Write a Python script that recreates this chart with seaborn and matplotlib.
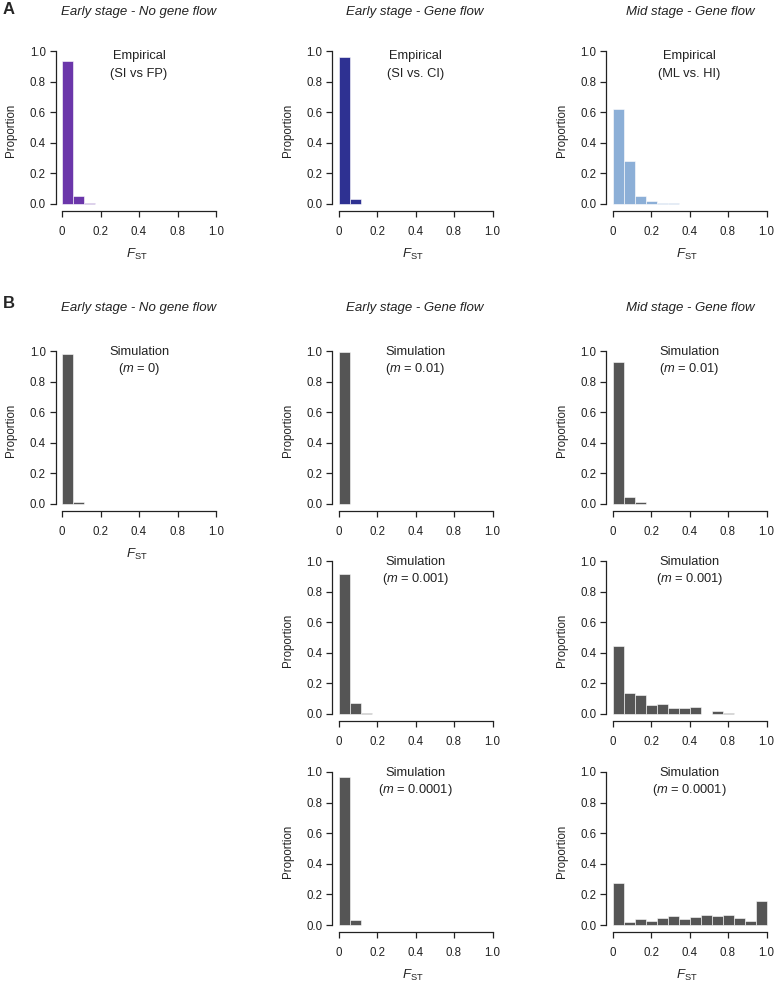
import numpy as np
import pandas as pd
import matplotlib
matplotlib.use("Agg")
import matplotlib.pyplot as plt
import seaborn as sns

sns.set_style("ticks")
plt.rcParams['font.family'] = ['Liberation Sans', 'DejaVu Sans']
plt.rcParams['mathtext.fontset'] = 'custom'
plt.rcParams['mathtext.rm'] = 'Liberation Sans'
plt.rcParams['mathtext.it'] = 'Liberation Sans:italic'

# FST histogram bins (14 equal bins over the axis)
n_bins = 14
bin_edges = np.linspace(0, 1, n_bins + 1)
bin_mids = (bin_edges[:-1] + bin_edges[1:]) / 2

x_tick_pos = [0, 0.25, 0.5, 0.75, 1.0]
x_tick_labels = ['0', '0.2', '0.4', '0.8', '1.0']
y_ticks = [0, 0.2, 0.4, 0.6, 0.8, 1.0]

stage_titles = ['Early stage - No gene flow', 'Early stage - Gene flow', 'Mid stage - Gene flow']

# A: empirical proportions per bin
emp_early_nogf = [0.935, 0.055, 0.005]
emp_early_gf = [0.96, 0.035]
emp_mid_gf = [0.62, 0.28, 0.052, 0.02, 0.004, 0.004]
emp_names = ['(SI vs FP)', '(SI vs. CI)', '(ML vs. HI)']
emp_colors = ['#6B36AA', '#2E3192', '#8CAFD7']

# B: simulated proportions per bin
sim_early_nogf_m0 = [0.98, 0.015]
sim_early_gf_m01 = [0.995]
sim_early_gf_m001 = [0.915, 0.075, 0.008]
sim_early_gf_m0001 = [0.965, 0.03]
sim_mid_gf_m01 = [0.93, 0.045, 0.015]
sim_mid_gf_m001 = [0.443, 0.139, 0.122, 0.059, 0.065, 0.037, 0.037, 0.048, 0.0, 0.02, 0.006]
sim_mid_gf_m0001 = [0.273, 0.017, 0.037, 0.026, 0.043, 0.058, 0.037, 0.054,
                    0.065, 0.058, 0.065, 0.043, 0.026, 0.155]
sim_color = '#555555'

W, H = 776, 982
fig = plt.figure(figsize=(W / 100, H / 100), dpi=100)

col_x0 = [62, 338.5, 612.5]       # pixel of x = 0
row_y0 = [204, 504, 714, 925]     # pixel of y = 0
span_x, span_y = 154, 153


def make_axes(col, row):
    x0, y0 = col_x0[col], row_y0[row]
    left, right = x0 - 6.5, x0 + span_x + 2
    bottom, top = y0 + 7, y0 - span_y - 2
    ax = fig.add_axes([left / W, 1 - bottom / H, (right - left) / W, (bottom - top) / H])
    return ax


def draw_hist(ax, values, color):
    vals = np.zeros(n_bins)
    vals[:len(values)] = values
    df = pd.DataFrame({'fst': bin_mids, 'prop': vals})
    sns.histplot(data=df, x='fst', weights='prop', bins=n_bins, binrange=(0, 1),
                 stat='count', color=color, alpha=1, edgecolor='white',
                 linewidth=0.4, ax=ax)
    ax.set_xlim(-6.5 / span_x, 1 + 2 / span_x)
    ax.set_ylim(-7 / span_y, 1 + 2 / span_y)


def style_axis(ax, show_xlabel):
    sns.despine(ax=ax)
    for s in ['left', 'bottom']:
        ax.spines[s].set_bounds(0, 1)
        ax.spines[s].set_linewidth(0.9)
        ax.spines[s].set_color('#222222')
    ax.set_xticks(x_tick_pos)
    ax.set_xticklabels(x_tick_labels)
    ax.set_yticks(y_ticks)
    ax.set_yticklabels(['%.1f' % v for v in y_ticks])
    ax.tick_params(axis='x', length=4, width=0.9, pad=7, labelsize=8.3, colors='#222222')
    ax.tick_params(axis='y', length=4, width=0.9, pad=3, labelsize=8.3, colors='#222222')
    ax.set_ylabel('Proportion', fontsize=8.3, labelpad=9, color='#222222')
    if show_xlabel:
        ax.set_xlabel(r'$\mathit{F}_{\mathrm{ST}}$', fontsize=9.5, labelpad=6, color='#222222')
    else:
        ax.set_xlabel('')


def annotate(ax, line1, line2, y1, y2):
    ax.text(0.5, y1, line1, ha='center', va='center', fontsize=9.3, color='#222222')
    ax.text(0.5, y2, line2, ha='center', va='center', fontsize=9.3, color='#222222')


# Panel A
emp_data = [emp_early_nogf, emp_early_gf, emp_mid_gf]
for c in range(3):
    ax = make_axes(c, 0)
    draw_hist(ax, emp_data[c], emp_colors[c])
    style_axis(ax, True)
    annotate(ax, 'Empirical', emp_names[c], 0.967, 0.85)

# Panel B
sim_panels = [
    (0, 1, sim_early_nogf_m0, '0', True),
    (1, 1, sim_early_gf_m01, '0.01', False),
    (1, 2, sim_early_gf_m001, '0.001', False),
    (1, 3, sim_early_gf_m0001, '0.0001', True),
    (2, 1, sim_mid_gf_m01, '0.01', False),
    (2, 2, sim_mid_gf_m001, '0.001', False),
    (2, 3, sim_mid_gf_m0001, '0.0001', True),
]
for c, r, vals, m, xl in sim_panels:
    ax = make_axes(c, r)
    draw_hist(ax, vals, sim_color)
    style_axis(ax, xl)
    annotate(ax, 'Simulation', r'($\mathit{m}$ = ' + m + ')', 0.995, 0.88)

# column titles and panel letters
col_centers = [139, 415, 690]
for y_px in [12, 308]:
    for cx, t in zip(col_centers, stage_titles):
        fig.text(cx / W, 1 - y_px / H, t, ha='center', va='center',
                 fontsize=9.5, style='italic', color='#222222')
fig.text(9 / W, 1 - 10 / H, 'A', ha='center', va='center', fontsize=12, fontweight='bold')
fig.text(9 / W, 1 - 304 / H, 'B', ha='center', va='center', fontsize=12, fontweight='bold')

fig.savefig('out.png', dpi=100)
